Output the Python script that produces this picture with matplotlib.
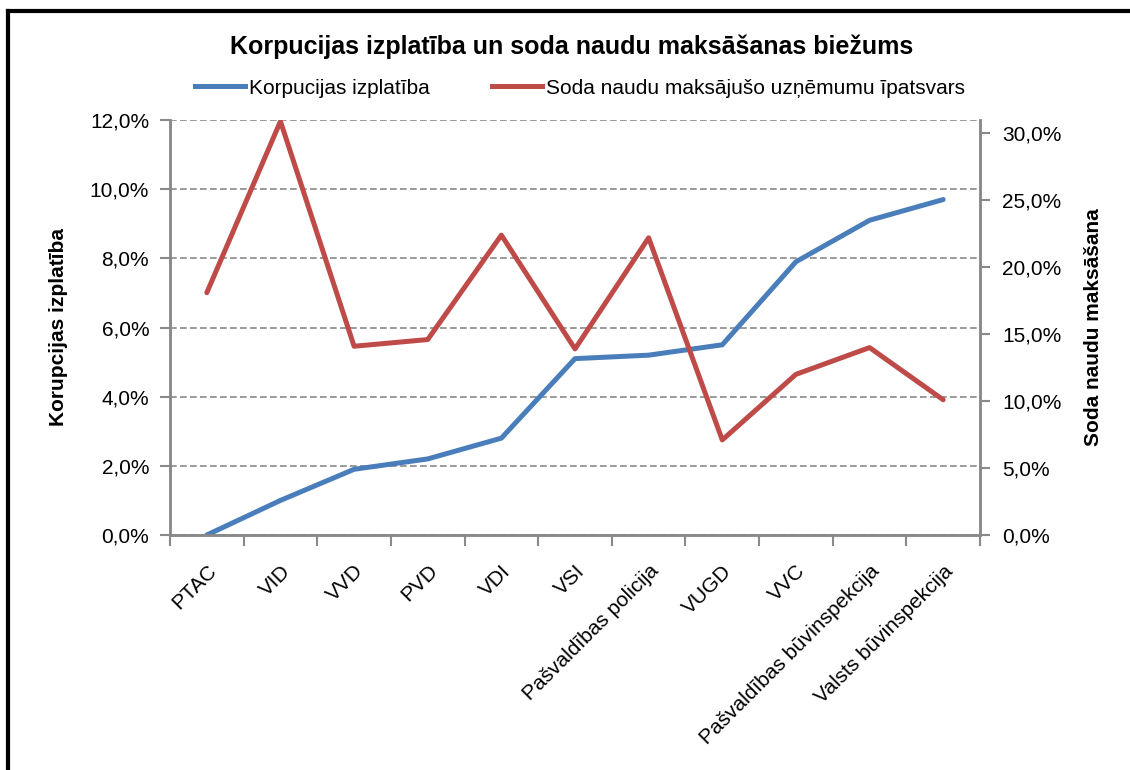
import matplotlib.pyplot as plt
from matplotlib.lines import Line2D
from matplotlib.ticker import FuncFormatter, FixedLocator

plt.rcParams['font.family'] = ['Liberation Sans', 'DejaVu Sans']

categories = ['PTAC', 'VID', 'VVD', 'PVD', 'VDI', 'VSI', 'Pašvaldības policija',
              'VUGD', 'VVC', 'Pašvaldības būvinspekcija', 'Valsts būvinspekcija']
# korupcijas izplatiba (left axis)
corruption = [0.000, 0.010, 0.019, 0.022, 0.028, 0.051, 0.052, 0.055, 0.079, 0.091, 0.097]
# soda naudu maksajuso uznemumu ipatsvars (right axis)
fines = [0.181, 0.309, 0.141, 0.146, 0.224, 0.139, 0.222, 0.071, 0.120, 0.140, 0.101]

blue = '#4A7EBB'
red = '#BE4B48'
grey = '#898989'
fs = 15
lw = 3.6

def pct(v, pos):
    return f'{v*100:.1f}%'.replace('.', ',')

fig = plt.figure(figsize=(11.3, 7.7), dpi=100)
ax = fig.add_axes([170/1130, 1-535/770, 810/1130, 415/770])
ax2 = ax.twinx()

x = list(range(len(categories)))
ax.plot(x, corruption, color=blue, lw=lw, solid_capstyle='round')
ax2.plot(x, fines, color=red, lw=lw, solid_capstyle='round')

ax.set_xlim(-0.5, len(categories) - 0.5)
ax.set_ylim(0, 0.12)
ax.set_yticks([0, 0.02, 0.04, 0.06, 0.08, 0.10, 0.12])
ax2.set_ylim(0, 0.31)
ax2.set_yticks([0, 0.05, 0.10, 0.15, 0.20, 0.25, 0.30])
ax.yaxis.set_major_formatter(FuncFormatter(pct))
ax2.yaxis.set_major_formatter(FuncFormatter(pct))

ax.set_xticks(x)
ax.set_xticklabels(categories, rotation=45, ha='right', va='top',
                   rotation_mode='anchor', fontsize=fs)
ax.xaxis.set_minor_locator(FixedLocator([i - 0.5 for i in range(len(categories) + 1)]))
ax.tick_params(axis='x', which='major', length=0, pad=19)
ax.tick_params(axis='x', which='minor', length=8, color=grey, width=1.5)
ax.tick_params(axis='y', length=7, color=grey, width=1.5, labelsize=fs, pad=8)
ax2.tick_params(axis='y', length=7, color=grey, width=1.5, labelsize=fs, pad=9)

ax.grid(axis='y', color=grey, ls=(0, (4, 2)), lw=1.2)
ax.set_axisbelow(True)

for a in (ax, ax2):
    a.spines['top'].set_visible(False)
    for s in ('left', 'right', 'bottom'):
        a.spines[s].set_color(grey)
        a.spines[s].set_linewidth(1.8)

ax.set_ylabel('Korupcijas izplatība', fontsize=fs, fontweight='bold', labelpad=16)
ax2.set_ylabel('Soda naudu maksāšana', fontsize=fs, fontweight='bold', labelpad=16)

fig.text(572/1130, 1-47/770, 'Korpucijas izplatība un soda naudu maksāšanas biežums',
         ha='center', va='center', fontsize=18, fontweight='bold')

handles = [Line2D([], [], color=blue, lw=lw), Line2D([], [], color=red, lw=lw)]
fig.legend(handles, ['Korpucijas izplatība', 'Soda naudu maksājušo uzņēmumu īpatsvars'],
           loc='center', bbox_to_anchor=(580/1130, 1-88/770), ncol=2, frameon=False,
           fontsize=fs, handlelength=2.4, handletextpad=0.2, columnspacing=3.0)

# outer frame (only left and top edges visible)
fig.add_artist(Line2D([8/1130, 8/1130], [0, 1-11/770], color='black', lw=3,
                      transform=fig.transFigure))
fig.add_artist(Line2D([8/1130, 1], [1-11/770, 1-11/770], color='black', lw=3,
                      transform=fig.transFigure))

fig.savefig('out.png', dpi=100)
